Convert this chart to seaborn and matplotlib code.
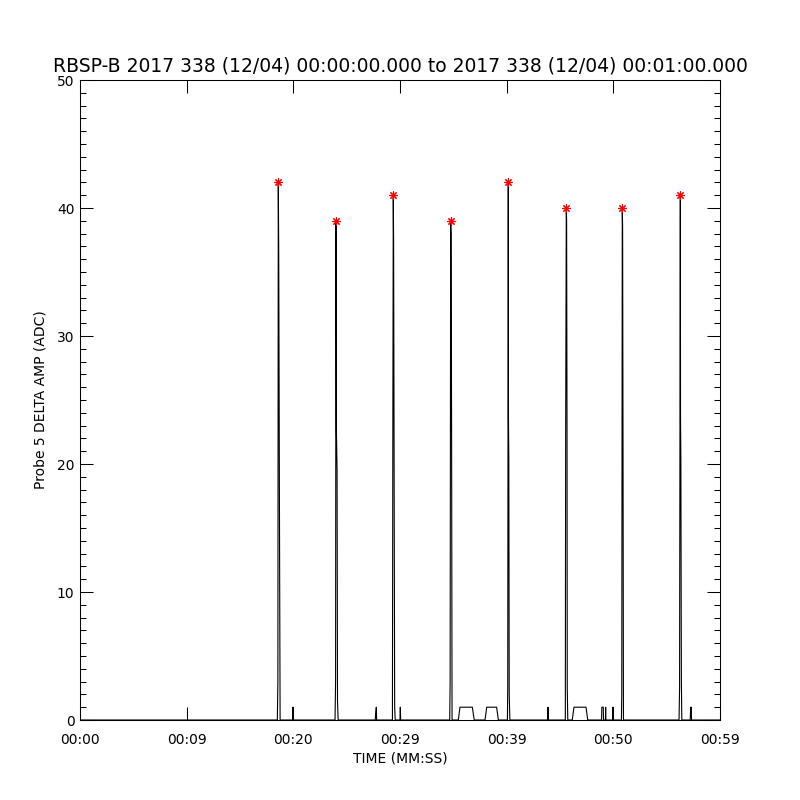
import matplotlib
matplotlib.use("Agg")
import matplotlib.pyplot as plt
import seaborn as sns
from matplotlib.ticker import MultipleLocator

# Probe 5 delta amplitude trace (time in seconds, amplitude in ADC)
t_sec = [0.0,
         18.50, 18.55, 18.59, 18.63, 18.70, 18.76,
         19.94, 19.97, 20.00,
         23.91, 23.96, 24.00, 24.04, 24.10, 24.14, 24.20,
         27.68, 27.72, 27.78, 27.81,
         29.29, 29.33, 29.37, 29.40, 29.44, 29.50, 29.55,
         30.00, 30.03, 30.06,
         34.66, 34.70, 34.75, 34.79, 34.84, 34.88,
         35.47, 35.62, 36.78, 36.96,
         37.97, 38.13, 39.06, 39.22,
         40.07, 40.10, 40.15, 40.17, 40.20, 40.24, 40.30,
         43.84, 43.88, 43.92,
         45.50, 45.53, 45.59, 45.62, 45.66, 45.68, 45.73,
         46.15, 46.31, 47.44, 47.60,
         48.90, 48.92, 49.06, 49.08,
         49.26, 49.28, 49.30,
         49.94, 49.97, 50.00,
         50.76, 50.79, 50.84, 50.87, 50.91, 50.95,
         56.16, 56.21, 56.28, 56.30, 56.33, 56.38, 56.42,
         57.20, 57.23, 57.26, 57.30, 57.33,
         60.0]
amp = [0,
       0, 3, 42, 36.5, 16, 0,
       0, 1, 0,
       0, 3, 39, 22.5, 19.5, 1.5, 0,
       0, 0.5, 1, 0,
       0, 23, 41, 37.5, 23, 1, 0,
       0, 1, 0,
       0, 3, 39, 38, 21.5, 0,
       0, 1, 1, 0,
       0, 1, 1, 0,
       0, 2.5, 42, 23.5, 20.5, 2, 0,
       0, 1, 0,
       0, 22, 40, 39, 22, 2.5, 0,
       0, 1, 1, 0,
       0, 1, 1, 0,
       0, 1, 0,
       0, 1, 0,
       0, 2, 40, 38.5, 20.5, 0,
       0, 2.5, 41, 23.5, 20.5, 3, 0,
       0, 0.5, 1, 1, 0,
       0]

# detected peaks
peak_t = [18.59, 24.00, 29.37, 34.75, 40.15, 45.59, 50.84, 56.28]
peak_amp = [42, 39, 41, 39, 42, 40, 40, 41]

x_ticks = [0, 10, 20, 30, 40, 50, 60]
x_labels = ["00:00", "00:09", "00:20", "00:29", "00:39", "00:50", "00:59"]

title = "RBSP-B 2017 338 (12/04) 00:00:00.000 to 2017 338 (12/04) 00:01:00.000"

sns.set_style("ticks")
plt.rcParams["font.family"] = ["DejaVu Sans"]
plt.rcParams.update({"text.color": "black", "axes.labelcolor": "black",
                     "xtick.color": "black", "ytick.color": "black"})

fig = plt.figure(figsize=(8, 8), dpi=100)
ax = fig.add_axes([0.1, 0.1, 0.8, 0.8])

sns.lineplot(x=t_sec, y=amp, estimator=None, sort=False, color="black",
             linewidth=0.8, ax=ax)
ax.plot(peak_t, peak_amp, linestyle="none", marker=(8, 2, 0), color="red",
        markersize=6, markeredgewidth=0.8)

ax.set_xlim(0, 60)
ax.set_ylim(0, 50)
ax.set_xticks(x_ticks)
ax.set_xticklabels(x_labels)
ax.yaxis.set_major_locator(MultipleLocator(10))
ax.yaxis.set_minor_locator(MultipleLocator(1))

ax.tick_params(axis="both", which="major", direction="in", length=9.5,
               width=0.75, labelsize=10, top=True, right=True)
ax.tick_params(axis="y", which="minor", direction="in", length=4.5,
               width=0.75, left=True, right=True)
ax.tick_params(axis="x", which="major", pad=9)
ax.tick_params(axis="y", which="major", pad=4)
for s in ax.spines.values():
    s.set_linewidth(0.75)
    s.set_color("black")

ax.set_xlabel("TIME (MM:SS)", fontsize=10)
ax.set_ylabel("Probe 5 DELTA AMP (ADC)", fontsize=10)
ax.xaxis.set_label_coords(0.5, -0.05)
ax.yaxis.set_label_coords(-0.05, 0.5)
ax.set_title(title, fontsize=13.5, pad=6)

fig.savefig("out.png", dpi=100, facecolor="white")
